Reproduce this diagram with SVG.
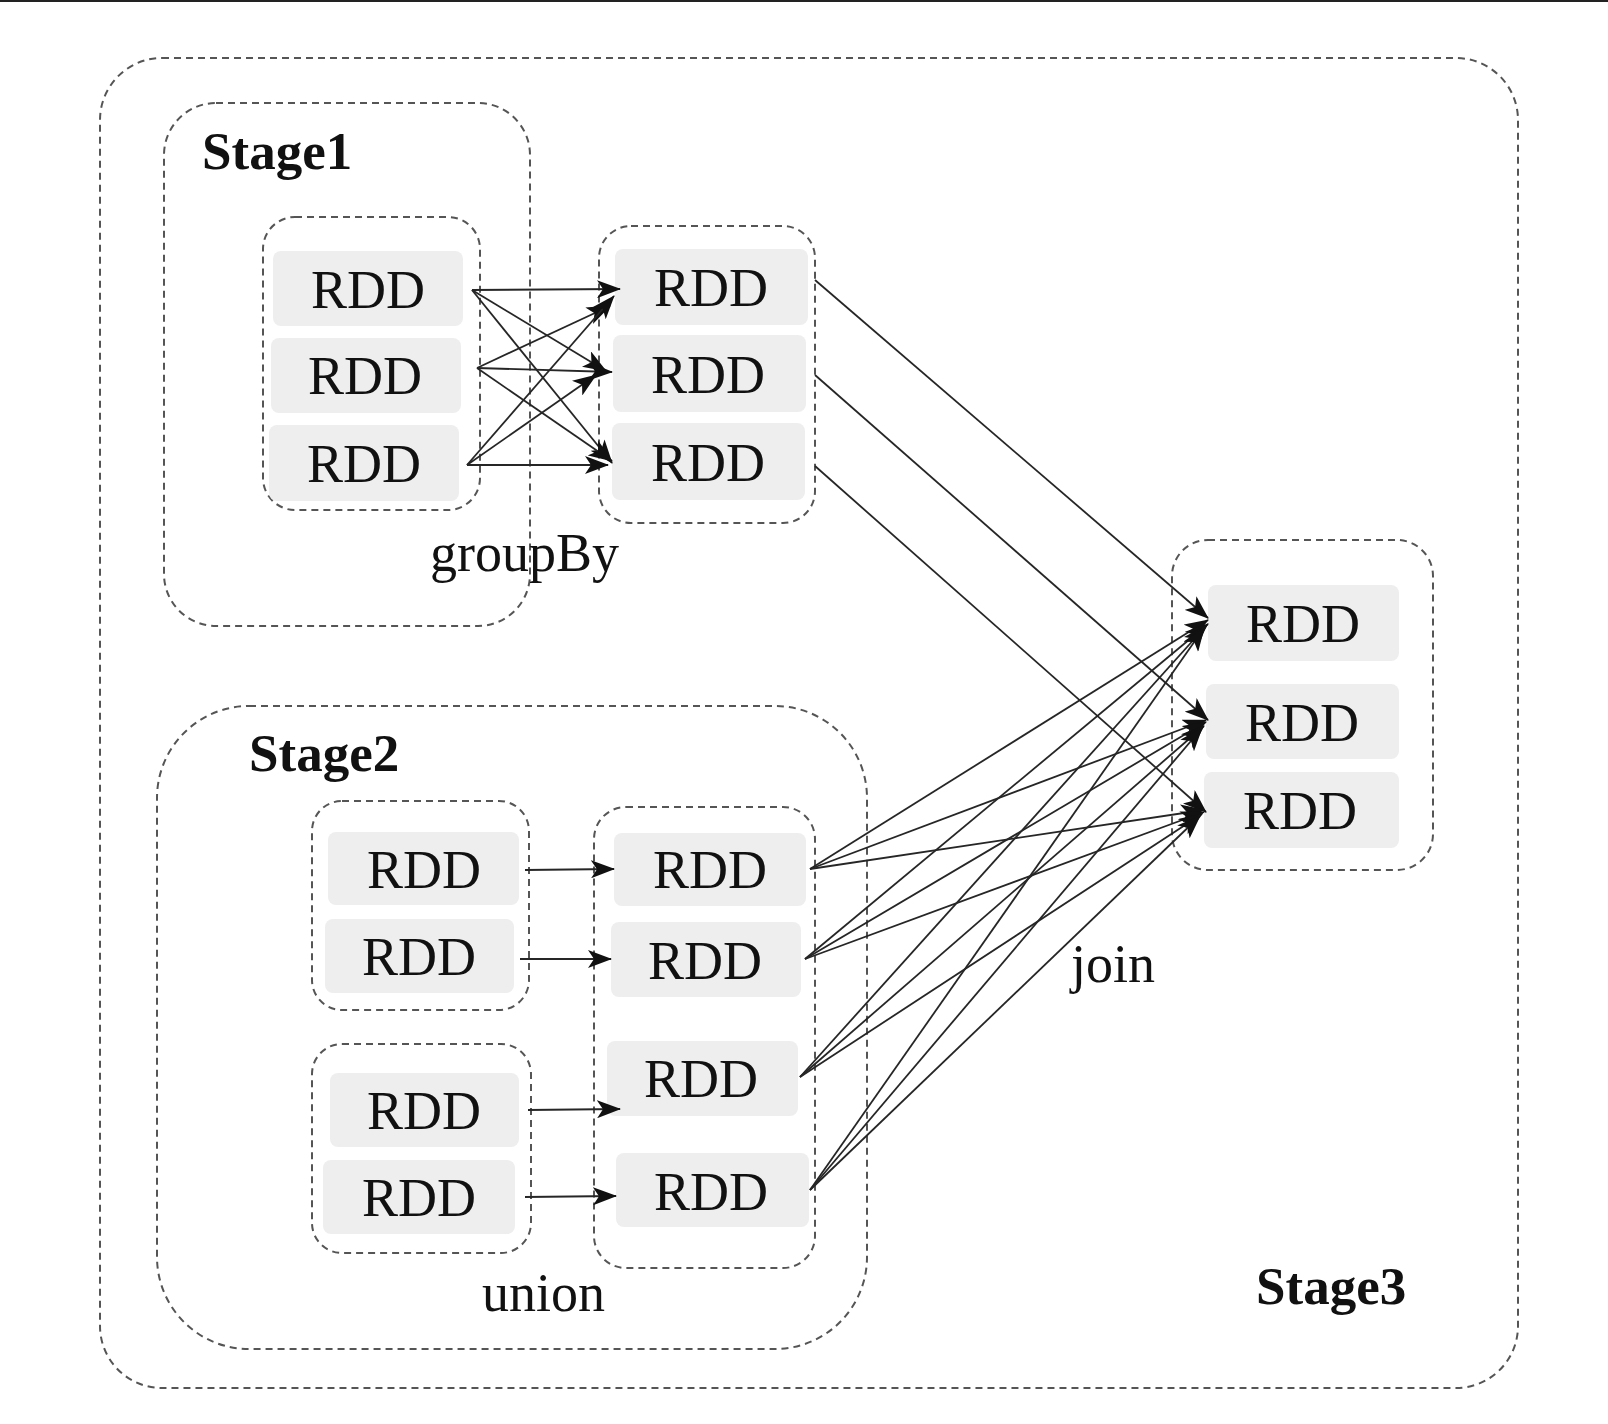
<svg xmlns="http://www.w3.org/2000/svg" width="1608" height="1424" viewBox="0 0 1608 1424">
<defs>
<style>
.box{fill:none;stroke:#555;stroke-width:2;stroke-dasharray:7 5}
.rdd{fill:#eeeeee;stroke:none}
.t{font-family:"Liberation Serif","Times New Roman",serif;font-size:54px;fill:#111}
.c{text-anchor:middle}
.b{font-weight:bold;font-size:53px}
.e{stroke:#262626;stroke-width:1.8;fill:none;marker-end:url(#ah)}
</style>
<marker id="ah" viewBox="0 0 24 18" refX="23" refY="9" markerWidth="24" markerHeight="18" markerUnits="userSpaceOnUse" orient="auto">
<path d="M0,0 L24,9 L0,18 L6,9 z" fill="#111"/>
</marker>
</defs>
<rect width="1608" height="1424" fill="#fff"/>
<line x1="0" y1="1" x2="1608" y2="1" stroke="#222" stroke-width="2"/>

<g id="stage3">
<rect class="box" x="100" y="58" width="1418" height="1330" rx="62"/>
<text class="t b" x="1256" y="1304">Stage3</text>
</g>

<g id="stage1">
<rect class="box" x="164" y="103" width="366" height="523" rx="52"/>
<text class="t b" x="202" y="169">Stage1</text>
</g>

<g id="stage2">
<rect class="box" x="157" y="706" width="710" height="643" rx="92"/>
<text class="t b" x="249" y="771">Stage2</text>
</g>

<g id="s1-src">
<rect class="box" x="263" y="217" width="217" height="293" rx="32"/>
<rect class="rdd" x="273" y="251" width="190" height="75" rx="8"/>
<text class="t c" x="368" y="308">RDD</text>
<rect class="rdd" x="271" y="338" width="190" height="75" rx="8"/>
<text class="t c" x="365" y="394">RDD</text>
<rect class="rdd" x="269" y="425" width="190" height="76" rx="8"/>
<text class="t c" x="364" y="482">RDD</text>
</g>

<g id="s1-grouped">
<rect class="box" x="599" y="226" width="216" height="297" rx="32"/>
<rect class="rdd" x="615" y="249" width="193" height="76" rx="8"/>
<text class="t c" x="711" y="306">RDD</text>
<rect class="rdd" x="613" y="335" width="193" height="77" rx="8"/>
<text class="t c" x="708" y="393">RDD</text>
<rect class="rdd" x="612" y="423" width="193" height="77" rx="8"/>
<text class="t c" x="708" y="481">RDD</text>
</g>
<text id="lbl-groupBy" class="t" x="430" y="571">groupBy</text>

<g id="s3-joined">
<rect class="box" x="1172" y="540" width="261" height="330" rx="36"/>
<rect class="rdd" x="1208" y="585" width="191" height="76" rx="8"/>
<text class="t c" x="1303" y="642">RDD</text>
<rect class="rdd" x="1206" y="684" width="193" height="75" rx="8"/>
<text class="t c" x="1302" y="741">RDD</text>
<rect class="rdd" x="1204" y="772" width="195" height="76" rx="8"/>
<text class="t c" x="1300" y="829">RDD</text>
</g>
<text id="lbl-join" class="t" x="1071" y="982">join</text>

<g id="s2-a">
<rect class="box" x="312" y="801" width="217" height="209" rx="30"/>
<rect class="rdd" x="328" y="832" width="191" height="73" rx="8"/>
<text class="t c" x="424" y="888">RDD</text>
<rect class="rdd" x="325" y="919" width="189" height="74" rx="8"/>
<text class="t c" x="419" y="975">RDD</text>
</g>

<g id="s2-b">
<rect class="box" x="312" y="1044" width="219" height="209" rx="30"/>
<rect class="rdd" x="330" y="1073" width="189" height="74" rx="8"/>
<text class="t c" x="424" y="1129">RDD</text>
<rect class="rdd" x="323" y="1160" width="192" height="74" rx="8"/>
<text class="t c" x="419" y="1216">RDD</text>
</g>

<g id="s2-union">
<rect class="box" x="594" y="807" width="221" height="461" rx="32"/>
<rect class="rdd" x="614" y="833" width="192" height="73" rx="8"/>
<text class="t c" x="710" y="888">RDD</text>
<rect class="rdd" x="611" y="922" width="190" height="75" rx="8"/>
<text class="t c" x="705" y="979">RDD</text>
<rect class="rdd" x="607" y="1041" width="191" height="75" rx="8"/>
<text class="t c" x="701" y="1097">RDD</text>
<rect class="rdd" x="616" y="1153" width="193" height="74" rx="8"/>
<text class="t c" x="711" y="1210">RDD</text>
</g>
<text id="lbl-union" class="t" x="482" y="1311">union</text>

<g id="connectors">
<line class="e" x1="472" y1="290" x2="620" y2="289"/>
<line class="e" x1="472" y1="290" x2="606" y2="371"/>
<line class="e" x1="472" y1="290" x2="612" y2="463"/>
<line class="e" x1="477" y1="368" x2="610" y2="306"/>
<line class="e" x1="477" y1="368" x2="612" y2="372"/>
<line class="e" x1="477" y1="368" x2="612" y2="461"/>
<line class="e" x1="467" y1="465" x2="614" y2="296"/>
<line class="e" x1="467" y1="465" x2="596" y2="375"/>
<line class="e" x1="467" y1="465" x2="608" y2="465"/>
<line class="e" x1="815" y1="280" x2="1208" y2="618"/>
<line class="e" x1="815" y1="375" x2="1208" y2="720"/>
<line class="e" x1="815" y1="466" x2="1206" y2="812"/>
<line class="e" x1="525" y1="870" x2="614" y2="869"/>
<line class="e" x1="520" y1="959" x2="611" y2="959"/>
<line class="e" x1="528" y1="1110" x2="620" y2="1109"/>
<line class="e" x1="525" y1="1197" x2="616" y2="1196"/>
<line class="e" x1="810" y1="869" x2="1208" y2="620"/>
<line class="e" x1="810" y1="869" x2="1206" y2="720"/>
<line class="e" x1="810" y1="869" x2="1204" y2="810"/>
<line class="e" x1="805" y1="959" x2="1208" y2="624"/>
<line class="e" x1="805" y1="959" x2="1206" y2="722"/>
<line class="e" x1="805" y1="959" x2="1204" y2="812"/>
<line class="e" x1="800" y1="1077" x2="1206" y2="626"/>
<line class="e" x1="800" y1="1077" x2="1204" y2="726"/>
<line class="e" x1="800" y1="1077" x2="1202" y2="814"/>
<line class="e" x1="810" y1="1190" x2="1204" y2="628"/>
<line class="e" x1="810" y1="1190" x2="1202" y2="728"/>
<line class="e" x1="810" y1="1190" x2="1200" y2="816"/>
</g>
</svg>
